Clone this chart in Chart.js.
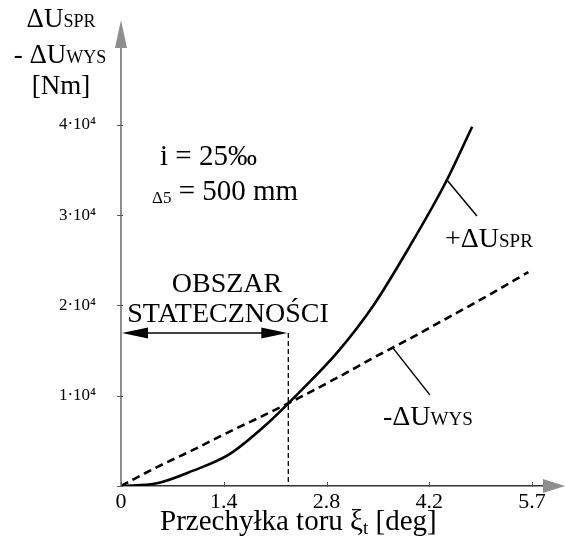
<!DOCTYPE html>
<html>
<head>
<meta charset="utf-8">
<script src="https://cdn.jsdelivr.net/npm/chart.js@4.4.0/dist/chart.umd.min.js"></script>
<style>
  html, body { margin: 0; padding: 0; background: #fff; }
  #wrap { width: 565px; height: 547px; position: relative; }
</style>
</head>
<body>
<div id="wrap"><canvas id="chart"></canvas></div>
<script>
// przechylka toru [deg] vs energia [Nm]
const sprX = [0, 0.5, 1.0, 1.5, 2.0, 2.5, 3.0, 3.5, 4.0, 4.5, 4.87];
const sprY = [0, 300, 1700, 3500, 6700, 10600, 14800, 20000, 26500, 33600, 39800];
const wysX = [0, 0.5, 1.0, 1.5, 2.0, 2.5, 3.0, 3.5, 4.0, 4.5, 5.0, 5.65];
const wysY = [0, 2100, 4000, 6000, 7900, 9900, 12000, 14200, 16300, 18500, 20700, 23700];

const xTickPos = [0, 1.425, 2.85, 4.275, 5.7];
const xTickLabels = ['0', '1.4', '2.8', '4.2', '5.7'];
const yTickPos = [0, 10000, 20000, 30000, 40000];
const yTickLabels = ['', '1\u00b710\u2074', '2\u00b710\u2074', '3\u00b710\u2074', '4\u00b710\u2074'];

const stabilityLimit = 2.32;   // przeciecie krzywych
const sprPointer = [4.52, 33900];
const wysPointer = [3.77, 15300];

const SERIF = '"Liberation Serif", "DejaVu Serif", serif';

function toPoints(xs, ys) {
  return xs.map((x, i) => ({ x: x, y: ys[i] }));
}

// text made of pieces with different sizes (small caps, subscripts)
function drawParts(ctx, parts, x, baseline, align) {
  let total = 0;
  parts.forEach(p => {
    ctx.font = p.size + 'px ' + SERIF;
    p.w = ctx.measureText(p.t).width;
    total += p.w;
  });
  let cx = align === 'center' ? x - total / 2 : x;
  ctx.textAlign = 'left';
  ctx.textBaseline = 'alphabetic';
  parts.forEach(p => {
    ctx.font = p.size + 'px ' + SERIF;
    ctx.fillText(p.t, cx, baseline + (p.dy || 0));
    cx += p.w;
  });
}

function arrowHead(ctx, tipX, tipY, dx, dy, len, half) {
  // dx,dy: unit direction of the arrow
  const bx = tipX - dx * len, by = tipY - dy * len;
  ctx.beginPath();
  ctx.moveTo(tipX, tipY);
  ctx.lineTo(bx - dy * half, by + dx * half);
  ctx.lineTo(bx + dy * half, by - dx * half);
  ctx.closePath();
  ctx.fill();
}

const annotations = {
  id: 'annotations',
  afterDraw(chart) {
    const ctx = chart.ctx;
    const xs = chart.scales.x, ys = chart.scales.y;
    const area = chart.chartArea;
    ctx.save();

    // axis arrows
    ctx.fillStyle = '#8e8e8e';
    arrowHead(ctx, area.left, 20, 0, -1, 28, 6);
    arrowHead(ctx, 565, area.bottom, 1, 0, 22, 7);

    // tick marks
    ctx.strokeStyle = '#555';
    ctx.lineWidth = 1;
    xTickPos.forEach(v => {
      const px = Math.round(xs.getPixelForValue(v)) + 0.5;
      ctx.beginPath();
      ctx.moveTo(px, area.bottom - 4);
      ctx.lineTo(px, area.bottom + 1);
      ctx.stroke();
    });
    yTickPos.forEach(v => {
      const py = Math.round(ys.getPixelForValue(v)) + 0.5;
      ctx.beginPath();
      ctx.moveTo(area.left - 4, py);
      ctx.lineTo(area.left + 2, py);
      ctx.stroke();
    });

    // stability region
    const limX = xs.getPixelForValue(stabilityLimit);
    const arrowY = 333;
    ctx.strokeStyle = '#000';
    ctx.lineWidth = 1.3;
    ctx.setLineDash([5, 3]);
    ctx.beginPath();
    ctx.moveTo(limX, arrowY);
    ctx.lineTo(limX, area.bottom);
    ctx.stroke();
    ctx.setLineDash([]);
    ctx.lineWidth = 1.5;
    ctx.beginPath();
    ctx.moveTo(area.left + 20, arrowY);
    ctx.lineTo(limX - 20, arrowY);
    ctx.stroke();
    ctx.fillStyle = '#000';
    arrowHead(ctx, area.left + 1, arrowY, -1, 0, 26, 5.5);
    arrowHead(ctx, limX - 1, arrowY, 1, 0, 26, 5.5);

    // pointer lines to curves
    ctx.lineWidth = 1.5;
    const sp = [xs.getPixelForValue(sprPointer[0]), ys.getPixelForValue(sprPointer[1])];
    ctx.beginPath();
    ctx.moveTo(sp[0], sp[1]);
    ctx.lineTo(sp[0] + 30, sp[1] + 36);
    ctx.stroke();
    const wp = [xs.getPixelForValue(wysPointer[0]), ys.getPixelForValue(wysPointer[1])];
    ctx.beginPath();
    ctx.moveTo(wp[0], wp[1]);
    ctx.lineTo(wp[0] + 37, wp[1] + 47);
    ctx.stroke();

    // texts
    ctx.fillStyle = '#000';
    drawParts(ctx, [{ t: '\u0394U', size: 27 }, { t: 'SPR', size: 18 }], 61, 27, 'center');
    drawParts(ctx, [{ t: '- \u0394U', size: 27 }, { t: 'WYS', size: 18 }], 60, 63, 'center');
    drawParts(ctx, [{ t: '[Nm]', size: 27 }], 61, 94, 'center');

    drawParts(ctx, [{ t: 'i = 25\u2030', size: 29 }], 160, 165, 'left');
    drawParts(ctx, [{ t: '\u03945', size: 17, dy: 3 }, { t: ' = 500 mm', size: 29 }], 152, 200, 'left');

    drawParts(ctx, [{ t: 'OBSZAR', size: 28 }], 227, 292, 'center');
    drawParts(ctx, [{ t: 'STATECZNO\u015aCI', size: 28 }], 228, 322, 'center');

    drawParts(ctx, [{ t: '+\u0394U', size: 28 }, { t: 'SPR', size: 19 }], 445, 247, 'left');
    drawParts(ctx, [{ t: '-\u0394U', size: 28 }, { t: 'WYS', size: 19 }], 383, 425, 'left');

    drawParts(ctx, [
      { t: 'Przechy\u0142ka toru \u03be', size: 29 },
      { t: 't', size: 19, dy: 4 },
      { t: ' [deg]', size: 29 }
    ], 160, 530, 'left');

    ctx.restore();
  }
};

const ctx = document.getElementById('chart').getContext('2d');
const chart = new Chart(ctx, {
  type: 'line',
  data: {
    datasets: [
      {
        label: '+\u0394U SPR',
        data: toPoints(sprX, sprY),
        borderColor: '#000',
        borderWidth: 2.6,
        pointRadius: 0,
        cubicInterpolationMode: 'monotone',
        fill: false,
      },
      {
        label: '-\u0394U WYS',
        data: toPoints(wysX, wysY),
        borderColor: '#000',
        borderWidth: 2.6,
        borderDash: [8, 5],
        pointRadius: 0,
        cubicInterpolationMode: 'monotone',
        fill: false,
      },
    ],
  },
  options: {
    responsive: true,
    maintainAspectRatio: false,
    animation: false,
    layout: {
      padding: { left: 0, right: 19, top: 47, bottom: 0 },
    },
    plugins: {
      legend: { display: false },
      tooltip: { enabled: false },
      title: { display: false },
    },
    scales: {
      x: {
        type: 'linear',
        min: 0,
        max: 5.894,
        afterBuildTicks: scale => {
          scale.ticks = xTickPos.map(v => ({ value: v }));
        },
        afterFit: scale => {
          scale.height = 61;
        },
        ticks: {
          padding: 3,
          color: '#000',
          font: { family: SERIF, size: 22 },
          maxRotation: 0,
          autoSkip: false,
          callback: (value, index) => xTickLabels[index],
        },
        grid: { display: false, drawTicks: false, tickLength: 0 },
        border: { display: true, color: '#333', width: 1.5 },
      },
      y: {
        type: 'linear',
        min: 0,
        max: 48640,
        afterBuildTicks: scale => {
          scale.ticks = yTickPos.map(v => ({ value: v }));
        },
        afterFit: scale => {
          scale.width = 121;
        },
        ticks: {
          padding: 25,
          color: '#000',
          font: { family: SERIF, size: 17 },
          autoSkip: false,
          callback: (value, index) => yTickLabels[index],
        },
        grid: { display: false, drawTicks: false, tickLength: 0 },
        border: { display: true, color: '#8e8e8e', width: 2 },
      },
    },
  },
  plugins: [annotations],
});
</script>
</body>
</html>
